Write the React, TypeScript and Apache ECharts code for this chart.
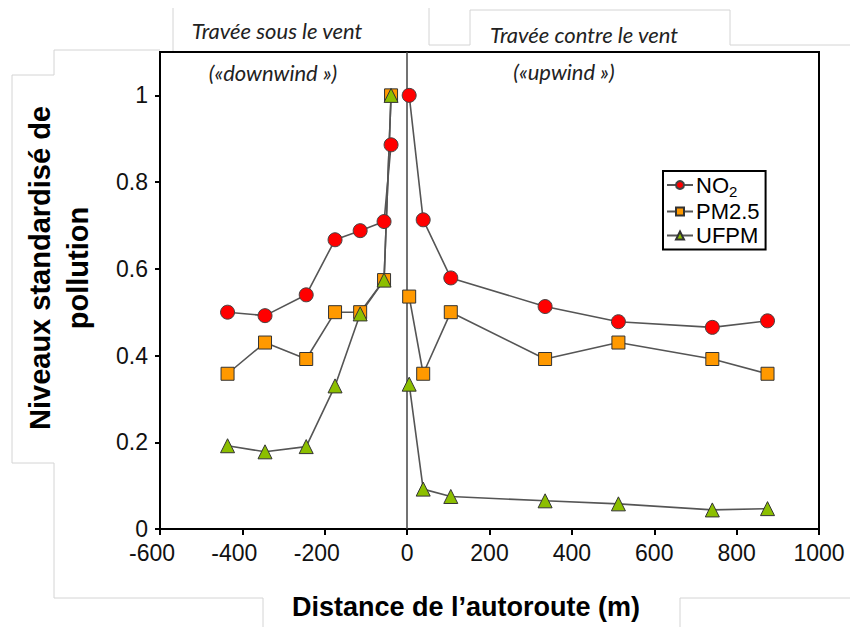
import React, { useEffect, useRef } from "react";
import * as echarts from "echarts";

// Distances (m) — downwind (negative) and upwind (positive) spans
const downwindDist = [-436, -345, -245, -175, -114, -56, -39];
const upwindDist = [5, 39, 106, 335, 513, 741, 875];

// Standardised pollution levels
const no2Down = [0.5, 0.492, 0.54, 0.667, 0.688, 0.709, 0.886];
const no2Up = [1.0, 0.713, 0.579, 0.513, 0.478, 0.465, 0.48];
const pmDown = [0.358, 0.43, 0.392, 0.5, 0.5, 0.574, 1.0];
const pmUp = [0.536, 0.358, 0.5, 0.392, 0.43, 0.392, 0.358];
const ufDown = [0.192, 0.178, 0.19, 0.33, 0.496, 0.574, 1.0];
const ufUp = [0.334, 0.092, 0.075, 0.065, 0.058, 0.044, 0.047];

const seriesNames = ["NO2", "PM2.5", "UFPM"];
const xTitle = "Distance de l\u2019autoroute (m)";
const yTitle = "Niveaux standardisé de\npollution";

const pair = (xs: number[], ys: number[]) => xs.map((x, i) => [x, ys[i]]);

export default function App() {
  const ref = useRef<HTMLDivElement>(null);
  useEffect(() => {
    if (!ref.current) return;
    const chart = echarts.init(ref.current, null, { renderer: "svg" });
    const lineStyle = { color: "#555", width: 1.6 };
    const font = "Liberation Sans, Arial, sans-serif";
    const styles: Record<string, any> = {
      NO2: { symbol: "circle", symbolSize: 14, itemStyle: { color: "#ff0000", borderColor: "#444", borderWidth: 1 } },
      "PM2.5": { symbol: "rect", symbolSize: 13, itemStyle: { color: "#ff9900", borderColor: "#333", borderWidth: 1 } },
      UFPM: { symbol: "triangle", symbolSize: 14, itemStyle: { color: "#8cbf00", borderColor: "#333", borderWidth: 1 } },
    };
    const mk = (name: string, data: number[][], extra: any = {}) => ({
      type: "line",
      name,
      data,
      ...styles[name],
      lineStyle,
      z: 3,
      ...extra,
    });
    const gray = { stroke: "#d4d4d4", lineWidth: 1, fill: "none" };
    const ital = { fontSize: 22, fontStyle: "italic", fontFamily: "Lato, Open Sans, sans-serif", fill: "#222", align: "center", verticalAlign: "middle" };
    const option: any = {
      animation: false,
      backgroundColor: "#fff",
      grid: { left: 160, right: 31, top: 52, bottom: 98, show: true, borderColor: "#000", borderWidth: 2, backgroundColor: "transparent" },
      xAxis: {
        type: "value",
        min: -600,
        max: 1000,
        interval: 200,
        axisLine: { show: true, onZero: false, lineStyle: { color: "#000", width: 2 } },
        axisTick: { show: true, inside: false, length: 6, lineStyle: { color: "#000", width: 2 } },
        axisLabel: {
          color: "#111",
          fontSize: 23,
          fontFamily: font,
          margin: 12,
          formatter: (v: number) => (v < 0 ? "{neg|" + String(v) + "}" : String(v)),
          rich: { neg: { fontSize: 23, fontFamily: font, color: "#111", padding: [0, 16, 0, 0] } },
        },
        splitLine: { show: false },
      },
      yAxis: {
        type: "value",
        min: 0,
        max: 1.1,
        interval: 0.2,
        axisLine: { show: true, onZero: false, lineStyle: { color: "#000", width: 2 } },
        axisTick: { show: true, inside: false, length: 5, lineStyle: { color: "#000", width: 2 } },
        axisLabel: { color: "#111", fontSize: 23, fontFamily: font, margin: 12, showMaxLabel: false },
        splitLine: { show: false },
      },
      legend: {
        data: seriesNames,
        orient: "vertical",
        left: 663,
        top: 171,
        padding: [3, 6, 3, 3],
        borderColor: "#000",
        borderWidth: 2,
        backgroundColor: "#fff",
        itemWidth: 26,
        itemHeight: 10,
        itemGap: 2,
        formatter: (n: string) => (n === "NO2" ? "{n|NO}{sub|2}" : "{n|" + n + "}"),
        textStyle: {
          color: "#000",
          fontSize: 22,
          fontFamily: font,
          padding: [0, 0, 0, -2],
          rich: {
            n: { fontSize: 22, color: "#000", fontFamily: font },
            sub: { fontSize: 15, color: "#000", fontFamily: font, padding: [12, 0, 0, 0] },
          },
        },
      },
      series: [
        mk("NO2", pair(downwindDist, no2Down), {
          markLine: {
            silent: true,
            symbol: "none",
            label: { show: false },
            lineStyle: { color: "#444", width: 1.5, type: "solid" },
            data: [{ xAxis: 0 }],
            z: 1,
          },
        }),
        mk("NO2", pair(upwindDist, no2Up)),
        mk("PM2.5", pair(downwindDist, pmDown)),
        mk("PM2.5", pair(upwindDist, pmUp)),
        mk("UFPM", pair(downwindDist, ufDown)),
        mk("UFPM", pair(upwindDist, ufUp)),
      ],
      graphic: [
        { type: "polyline", silent: true, z: -1, shape: { points: [[160, 50], [54, 50], [54, 75], [12, 75], [12, 463], [54, 463], [54, 598], [263, 598], [263, 627]] }, style: gray },
        { type: "line", silent: true, z: -1, shape: { x1: 173, y1: 8, x2: 173, y2: 51 }, style: gray },
        { type: "polyline", silent: true, z: -1, shape: { points: [[429, 8], [429, 45], [470, 45], [470, 10], [730, 10], [730, 45], [850, 45]] }, style: gray },
        { type: "polyline", silent: true, z: -1, shape: { points: [[680, 627], [680, 598], [850, 598]] }, style: gray },
        { type: "text", x: 277, y: 30, style: { text: "Travée sous le vent", ...ital } },
        { type: "text", x: 584, y: 34, style: { text: "Travée contre le vent", ...ital } },
        { type: "text", x: 273, y: 72, style: { text: "(«downwind »)", ...ital } },
        { type: "text", x: 564, y: 71, style: { text: "(«upwind »)", ...ital } },
        { type: "text", x: 466, y: 607, style: { text: xTitle, fontSize: 27, fontWeight: "bold", fontFamily: font, fill: "#000", align: "center", verticalAlign: "middle" } },
        { type: "text", x: 59, y: 268, rotation: Math.PI / 2, style: { text: yTitle, fontSize: 29, fontWeight: "bold", fontFamily: font, fill: "#000", align: "center", verticalAlign: "middle", lineHeight: 38 } },
      ],
    };
    chart.setOption(option);
    return () => chart.dispose();
  }, []);
  return <div ref={ref} style={{ width: 850, height: 627, position: "absolute", left: 0, top: 0 }} />;
}
